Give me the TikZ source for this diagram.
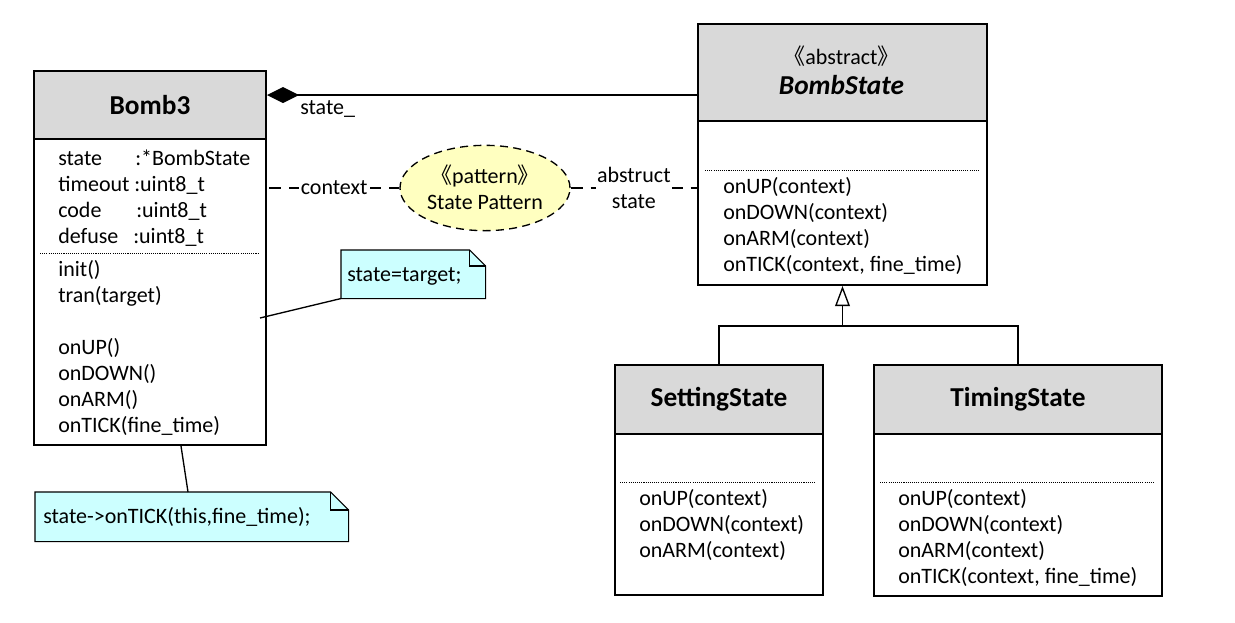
\documentclass[tikz,border=0pt]{standalone}
\usepackage{fontspec}
\setmainfont{Carlito}
\newfontfamily\cjk{Noto Sans CJK SC}
\usetikzlibrary{arrows.meta,shapes.geometric}
\definecolor{hdr}{RGB}{217,217,217}
\definecolor{notec}{RGB}{204,255,255}
\definecolor{patc}{RGB}{255,255,192}
\begin{document}
\begin{tikzpicture}[x=0.75pt,y=-0.75pt,
  box/.style={draw, line width=1.5pt, fill=white, rectangle, anchor=north west, inner sep=0pt},
  hbox/.style={box, fill=hdr},
  txt/.style={font=\fontsize{16.5}{19.5}\selectfont, inner sep=0pt, anchor=base west},
  ctxt/.style={font=\fontsize{16.5}{19.5}\selectfont, inner sep=0pt, anchor=base},
  ttl/.style={font=\fontsize{20.5}{24}\selectfont\bfseries, inner sep=0pt},
  sep/.style={line width=0.6pt, dash pattern=on 0.8pt off 0.8pt},
  conn/.style={line width=1pt},
  dconn/.style={line width=1pt, dash pattern=on 9pt off 6pt},
  notebox/.style={inner sep=0pt, anchor=north west},
  notepath/.style={draw, fill=notec, line width=0.8pt},
]
\path[use as bounding box] (0,0) rectangle (1235,622);

% ---------------- Bomb3 ----------------
\node[box, minimum width=174pt, minimum height=280.5pt] (bomb) at (33,70) {};
\node[hbox, minimum width=174pt, minimum height=51pt] (bombh) at (33,70) {};
\node[ttl] (bombt) at (bombh.center) {Bomb3};
\draw[sep] (40,253) -- (258,253);
\node[txt] (ba1) at (58,165) {state};
\node[txt] (ba2) at (58,191) {timeout};
\node[txt] (ba3) at (58,217) {code};
\node[txt] (ba4) at (58,243) {defuse};
\node[txt] (bt1) at (135,165) {:*BombState};
\node[txt] (bt2) at (134,191) {:uint8\_t};
\node[txt] (bt3) at (136,217) {:uint8\_t};
\node[txt] (bt4) at (133,243) {:uint8\_t};
\node[txt] (bm1) at (58,276) {init()};
\node[txt] (bm2) at (58,302) {tran(target)};
\node[txt] (bm3) at (58,354) {onUP()};
\node[txt] (bm4) at (58,380) {onDOWN()};
\node[txt] (bm5) at (58,406) {onARM()};
\node[txt] (bm6) at (58,432) {onTICK(fine\_time)};

% ---------------- BombState ----------------
\node[box, minimum width=216.75pt, minimum height=195.75pt] (bs) at (697,23) {};
\node[hbox, minimum width=216.75pt, minimum height=72.75pt] (bsh) at (697,23) {};
\node[ctxt] (bsst) at (841.5,64) {{\cjk 《}abstract{\cjk 》}};
\node[ttl, anchor=base, font=\fontsize{20.5}{24}\selectfont\bfseries\itshape] (bst) at (841.5,94) {BombState};
\draw[sep] (705,170) -- (980,170);
\node[txt] (bsm1) at (723,193) {onUP(context)};
\node[txt] (bsm2) at (723,219) {onDOWN(context)};
\node[txt] (bsm3) at (723,245) {onARM(context)};
\node[txt] (bsm4) at (723,271) {onTICK(context, fine\_time)};

% ---------------- SettingState ----------------
\node[box, minimum width=156pt, minimum height=172.5pt] (ss) at (614,364) {};
\node[hbox, minimum width=156pt, minimum height=51.75pt] (ssh) at (614,364) {};
\node[ttl] (sst) at (ssh.center) {SettingState};
\draw[sep] (620,482) -- (816,482);
\node[txt] (ssm1) at (639,505) {onUP(context)};
\node[txt] (ssm2) at (639,531) {onDOWN(context)};
\node[txt] (ssm3) at (639,557) {onARM(context)};

% ---------------- TimingState ----------------
\node[box, minimum width=216pt, minimum height=173.25pt] (ts) at (873,364) {};
\node[hbox, minimum width=216pt, minimum height=51.75pt] (tsh) at (873,364) {};
\node[ttl] (tst) at (tsh.center) {TimingState};
\draw[sep] (880,482) -- (1154,482);
\node[txt] (tsm1) at (898,505) {onUP(context)};
\node[txt] (tsm2) at (898,531) {onDOWN(context)};
\node[txt] (tsm3) at (898,557) {onARM(context)};
\node[txt] (tsm4) at (898,583) {onTICK(context, fine\_time)};

% ---------------- generalization ----------------
\path (bs.south) ++(0,40) coordinate (j);
\draw[conn] (ss.north) |- (j) -| (ts.north);
\draw[conn, -{Triangle[open, length=15pt, width=11pt, fill=white]}] (j) -- (bs.south);

% ---------------- composition ----------------
\path (bomb.north east) ++(0,25) coordinate (compL);
\draw[line width=1.1pt, {Diamond[length=24pt, width=12pt, fill=black]}-] (compL) -- (compL -| bs.west);
\node[txt] (lblstate) at (300,114) {state\_};

% ---------------- pattern ----------------
\node[ellipse, draw, line width=1pt, dash pattern=on 6pt off 4pt, fill=patc, minimum width=127.5pt, minimum height=64pt, inner sep=0pt] (pat) at (485,188) {};
\node[ctxt] (pat1) at (485,183) {{\cjk 《}pattern{\cjk 》}};
\node[ctxt] (pat2) at (485,209) {State Pattern};
\path (bomb.north east) ++(2,118) coordinate (ctxL);
\draw[dconn] (ctxL) -- (pat.west) node[midway, fill=white, inner sep=1.5pt, font=\fontsize{16.5}{19.5}\selectfont] (lblctx) {context};
\draw[dconn] (pat.east) -- (pat.east -| bs.west) node[midway, fill=white, inner sep=1pt, align=center, font=\fontsize{16.5}{19.5}\selectfont] (lblabs) {abstruct\\state};

% ---------------- notes ----------------
\node[notebox, minimum width=108pt, minimum height=36pt] (n1) at (341,250) {};
\path[notepath] (n1.north west) -- ([xshift=-12pt]n1.north east) -- ([yshift=-12pt]n1.north east) -- (n1.south east) -- (n1.south west) -- cycle;
\draw[line width=0.8pt] ([xshift=-12pt]n1.north east) |- ([yshift=-12pt]n1.north east);
\node[txt] (n1t) at (347,281) {state=target;};
\coordinate (n1a) at (260,318);
\draw[conn] (n1a) -- (n1.south west);

\node[notebox, minimum width=234.75pt, minimum height=36.75pt] (n2) at (35,492) {};
\path[notepath] (n2.north west) -- ([xshift=-13.5pt]n2.north east) -- ([yshift=-13.5pt]n2.north east) -- (n2.south east) -- (n2.south west) -- cycle;
\draw[line width=0.8pt] ([xshift=-13.5pt]n2.north east) |- ([yshift=-13.5pt]n2.north east);
\node[txt] (n2t) at (43,523) {state->onTICK(this,fine\_time);};
\draw[conn] ([xshift=111pt]bomb.south west) -- ([xshift=114.75pt]n2.north west);
\end{tikzpicture}
\end{document}
